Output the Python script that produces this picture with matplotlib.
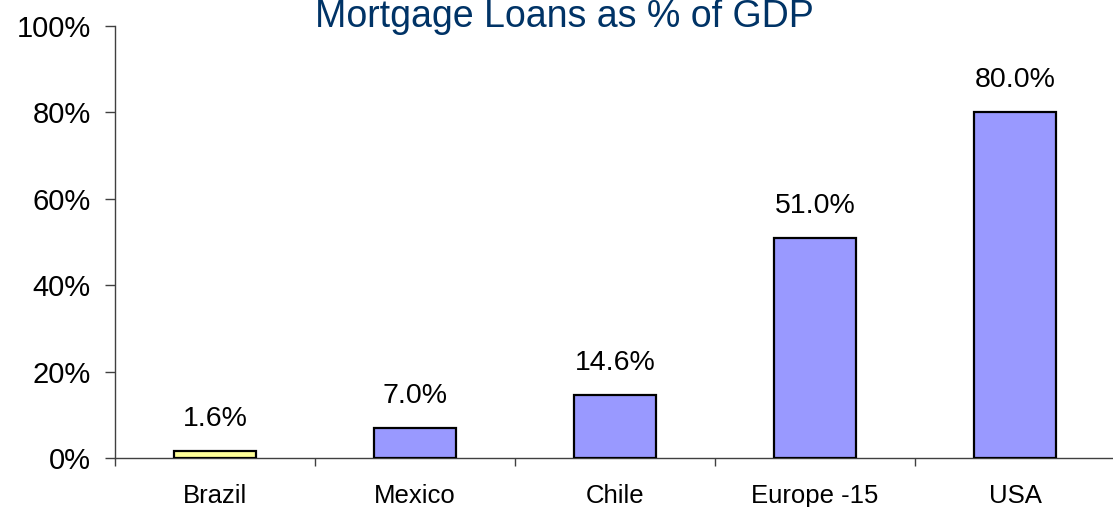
import matplotlib.pyplot as plt
import numpy as np

plt.rcParams['font.family'] = ['Liberation Sans', 'DejaVu Sans']

# Chart data
countries = ["Brazil", "Mexico", "Chile", "Europe -15", "USA"]
mortgage_pct = [1.6, 7.0, 14.6, 51.0, 80.0]
bar_colors = ["#FFFF99", "#9999FF", "#9999FF", "#9999FF", "#9999FF"]

fig = plt.figure(figsize=(11.13, 5.07), dpi=100)
ax = fig.add_axes([115 / 1113, 1 - 458 / 507, 1000 / 1113, (458 - 26) / 507])

x = np.arange(len(countries))
bars = ax.bar(x, mortgage_pct, width=0.41, color=bar_colors,
              edgecolor="black", linewidth=1.6, zorder=3)

for xi, v in zip(x, mortgage_pct):
    ax.annotate(f"{v:.1f}%", (xi, v), xytext=(0, 18), textcoords="offset points",
                ha="center", va="baseline", fontsize=20.5)

ax.set_xlim(-0.5, len(countries) - 0.5)
ax.set_ylim(0, 100)
ax.set_yticks(np.arange(0, 101, 20))
ax.set_yticklabels([f"{t}%" for t in range(0, 101, 20)])
ax.set_xticks(x)
ax.set_xticklabels(countries)
ax.set_xticks(np.arange(-0.5, len(countries), 1), minor=True)

ax.tick_params(axis="x", which="major", length=0, pad=19, labelsize=18.5)
ax.tick_params(axis="x", which="minor", length=6, direction="out", width=1, color="#404040")
ax.tick_params(axis="y", length=7, direction="out", width=1, pad=10.5, labelsize=21, color="#404040")

for side in ["top", "right"]:
    ax.spines[side].set_visible(False)
for side in ["left", "bottom"]:
    ax.spines[side].set_color("#404040")
    ax.spines[side].set_linewidth(1)

# title sits at the very top (clipped in the original), nudged down to stay visible
fig.text(0.507, 1 - 27 / 507, "Mortgage Loans as % of GDP", ha="center", va="baseline",
         fontsize=27, color="#003366")

fig.savefig("out.png", dpi=100)
